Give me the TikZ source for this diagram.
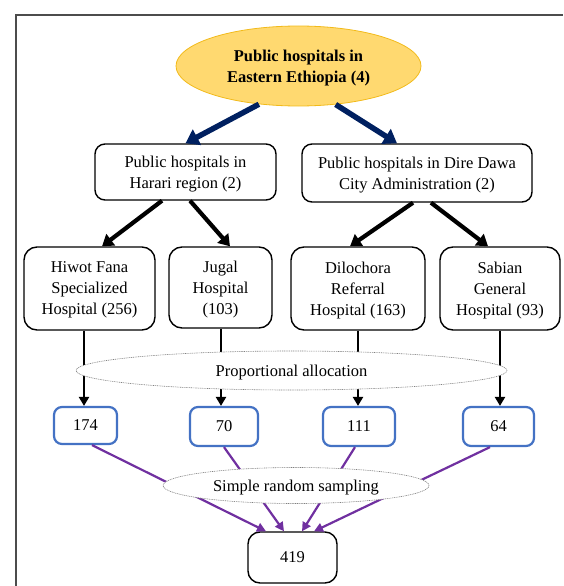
\documentclass[tikz,border=0pt]{standalone}
\usepackage{fontspec}
\setmainfont{Liberation Serif}
\usetikzlibrary{arrows.meta,shapes.geometric}
\definecolor{navy}{HTML}{002060}
\definecolor{purp}{HTML}{7030A0}
\definecolor{bblue}{HTML}{4472C4}
\definecolor{goldfill}{HTML}{FFD970}
\definecolor{goldline}{HTML}{F2BA1A}
\begin{document}
\begin{tikzpicture}[x=1pt,y=-1pt,
  every node/.style={font=\fontsize{16.5}{21}\selectfont, align=center, inner sep=0pt, text depth=0pt},
  hosp/.style={draw=black, line width=1.4pt, rounded corners=13pt, fill=white},
  region/.style={draw=black, line width=1.4pt, rounded corners=10pt, fill=white},
  small/.style={draw=bblue, line width=2.2pt, rounded corners=8pt, fill=white},
  final/.style={draw=black, line width=1.4pt, rounded corners=12pt, fill=white},
  method/.style={ellipse, draw=gray, dash pattern=on 1pt off 0.8pt, line width=0.6pt, fill=white},
  bluearr/.style={draw=navy, line width=5.5pt, -{Triangle[length=13pt,width=17pt]}},
  blackarr/.style={draw=black, line width=4.2pt, -{Triangle[length=11pt,width=14pt]}},
  vertarr/.style={draw=black, line width=2.8pt, -{Triangle[length=9pt,width=10pt]}},
  purparr/.style={draw=purp, line width=2.2pt, -{Triangle[length=9pt,width=9pt]}}
]
\useasboundingbox (0,0) rectangle (563,586);
\draw[line width=1.3pt, black!70] (16,586) -- (16,15) -- (563,15);

% top
\node[ellipse, fill=goldfill, draw=goldline, line width=0.8pt, minimum width=245pt, minimum height=80pt, font=\fontsize{16.5}{21}\selectfont\bfseries] (top) at (298.5,66) {Public hospitals in\\Eastern Ethiopia (4)};

% regions
\node[region, minimum width=181pt, minimum height=56pt] (har) at (185.5,172) {Public hospitals in\\Harari region (2)};
\node[region, minimum width=230pt, minimum height=58pt] (dd) at (417,173) {Public hospitals in Dire Dawa\\City Administration (2)};

% hospitals
\node[hosp, minimum width=131pt, minimum height=83pt] (h1) at (89.5,288.5) {Hiwot Fana\\Specialized\\Hospital (256)};
\node[hosp, minimum width=103pt, minimum height=81pt] (h2) at (220.5,287.5) {Jugal\\Hospital\\(103)};
\node[hosp, minimum width=134pt, minimum height=83pt] (h3) at (358,288.5) {Dilochora\\Referral\\Hospital (163)};
\node[hosp, minimum width=120pt, minimum height=83pt] (h4) at (500,288.5) {Sabian\\General\\Hospital (93)};

% samples
\node[small, minimum width=63pt, minimum height=37pt] (s1) at (85.5,425.5) {174};
\node[small, minimum width=68pt, minimum height=39pt] (s2) at (224,426.5) {70};
\node[small, minimum width=72pt, minimum height=39pt] (s3) at (359,426.5) {111};
\node[small, minimum width=71pt, minimum height=39pt] (s4) at (498.5,426.5) {64};

\node[final, minimum width=89pt, minimum height=51pt] (tot) at (292.5,557.5) {419};

% arrows top -> regions
\draw[bluearr] (top.224) -- (har.north);
\draw[bluearr] (top.314) -- ([xshift=-20pt]dd.north);

% regions -> hospitals
\draw[blackarr] ([xshift=-23.5pt]har.south) -- ([xshift=12.5pt]h1.north);
\draw[blackarr] ([xshift=4.5pt]har.south) -- ([xshift=9.5pt]h2.north);
\draw[blackarr] ([xshift=-4pt]dd.south) -- ([xshift=-8pt]h3.north);
\draw[blackarr] ([xshift=14pt]dd.south) -- ([xshift=-12pt]h4.north);

% hospitals -> samples
\draw[vertarr] (h1.south -| 84,0) -- (s1.north -| 84,0);
\draw[vertarr] (h2.south -| 221,0) -- (s2.north -| 221,0);
\draw[vertarr] (h3.south -| 358,0) -- (s3.north -| 358,0);
\draw[vertarr] (h4.south -| 500,0) -- (s4.north -| 500,0);

\node[method, minimum width=431pt, minimum height=39pt] (prop) at (291.5,370.5) {Proportional allocation};

% samples -> total
\draw[purparr] ([xshift=6.5pt]s1.south) -- ([xshift=-26.5pt]tot.north);
\draw[purparr] (s2.south) -- ([xshift=-8.5pt]tot.north);
\draw[purparr] ([xshift=-4pt]s3.south) -- ([xshift=9.5pt]tot.north);
\draw[purparr] ([xshift=-8.5pt]s4.south) -- ([xshift=21.5pt]tot.north);

\node[method, minimum width=266pt, minimum height=36pt] (srs) at (296,485.5) {Simple random sampling};
\end{tikzpicture}
\end{document}
